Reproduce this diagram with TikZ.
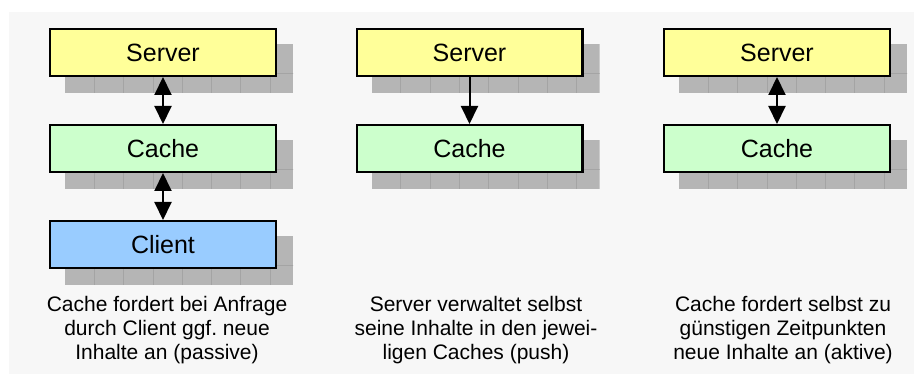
\documentclass[tikz,border=0pt]{standalone}
\usepackage{fontspec}
\setmainfont{Liberation Sans}
\usetikzlibrary{arrows.meta,calc}

\definecolor{pagebg}{HTML}{F7F7F7}
\definecolor{servercol}{HTML}{FFFF99}
\definecolor{cachecol}{HTML}{CCFFCC}
\definecolor{clientcol}{HTML}{99CCFF}
\definecolor{shadowcol}{HTML}{B5B5B5}
\definecolor{shadowline}{HTML}{A4A4A4}

\pgfdeclarelayer{base}
\pgfdeclarelayer{background}
\pgfsetlayers{base,background,main}

\tikzset{
  unitbox/.style={draw=black, line width=2.4pt, minimum width=225.6pt,
    minimum height=46.6pt, inner sep=0pt,
    font=\fontsize{25}{30}\selectfont},
  serverbox/.style={unitbox, fill=servercol},
  cachebox/.style={unitbox, fill=cachecol},
  clientbox/.style={unitbox, fill=clientcol},
  link/.style={line width=2pt},
  tip/.tip={Triangle[length=18pt 0, width=17pt 0]},
  caption/.style={align=center, inner sep=0pt, anchor=north,
    font=\fontsize{21}{24}\selectfont},
}

% tiled drop shadow behind a box
\newcommand\tiledshadow[1]{%
  \begin{scope}
    \path (#1.north west) ++(16,16) coordinate (sa);
    \path (#1.south east) ++(16,16) coordinate (sb);
    \clip (sa) rectangle (sb);
    \fill[shadowcol] (sa) rectangle (sb);
    \foreach \k in {1,...,8}
      \draw[shadowline, line width=0.8pt] ($(sa)+(\k*29.3,0)$) -- ++(0,60);
    \draw[shadowline, line width=0.8pt] ($(sa)+(0,29.3)$) -- ++(260,0);
  \end{scope}}

\begin{document}
\begin{tikzpicture}[x=1pt, y=-1pt]
  \useasboundingbox (0,0) rectangle (914,374);
  \begin{pgfonlayer}{base}
    \fill[white] (0,0) rectangle (914,374);
    \fill[pagebg] (9,12) rectangle (914,374);
  \end{pgfonlayer}

  % passive caching
  \node[serverbox] (s1) at (163,52.5) {Server};
  \node[cachebox]  (c1) at (163,148.5) {Cache};
  \node[clientbox] (k1) at (163,244.5) {Client};
  % push
  \node[serverbox] (s2) at (469.5,52.5) {Server};
  \node[cachebox]  (c2) at (469.5,148.5) {Cache};
  % active caching
  \node[serverbox] (s3) at (777,52.5) {Server};
  \node[cachebox]  (c3) at (777,148.5) {Cache};

  \begin{pgfonlayer}{background}
    \foreach \n in {s1,c1,k1,s2,c2,s3,c3} {\tiledshadow{\n}}
  \end{pgfonlayer}

  \draw[link, tip-tip] (s1.south) -- (c1.north);
  \draw[link, tip-tip] (c1.south) -- (k1.north);
  \draw[link, -tip] (s2.south) -- (c2.north);
  \draw[link, tip-tip] (s3.south) -- (c3.north);

  \node[caption] (t1) at (167,296) {Cache fordert bei Anfrage\\durch Client ggf.\ neue\\Inhalte an (passive)};
  \node[caption] (t2) at (476,296) {Server verwaltet selbst\\seine Inhalte in den jewei-\\ligen Caches (push)};
  \node[caption] (t3) at (783,296) {Cache fordert selbst zu\\günstigen Zeitpunkten\\neue Inhalte an (aktive)};
\end{tikzpicture}
\end{document}
